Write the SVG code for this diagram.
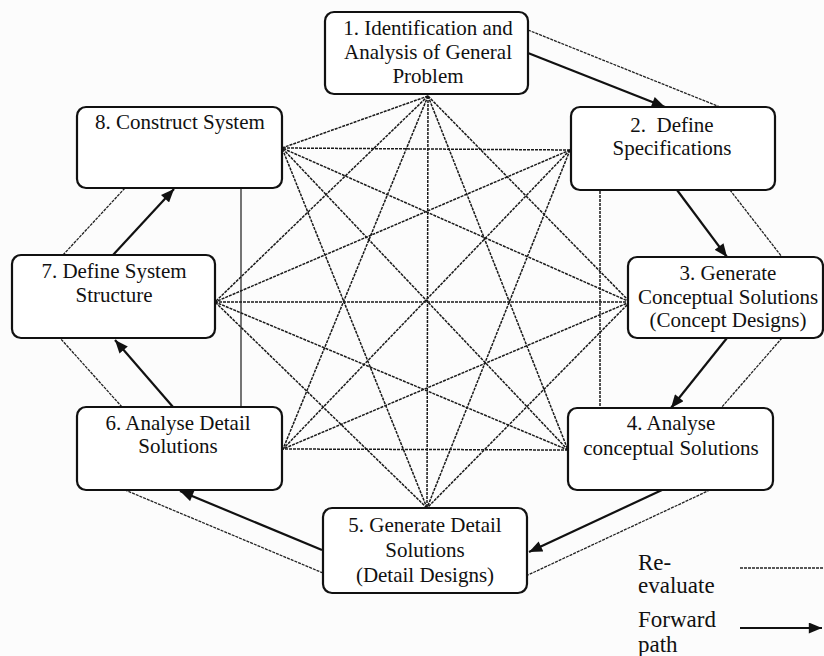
<svg xmlns="http://www.w3.org/2000/svg" width="824" height="656" viewBox="0 0 824 656">
  <style>
    .box { fill: #ffffff; stroke: #111; stroke-width: 2.2; }
    .lbl { font-family: "Liberation Serif", "Tinos", "DejaVu Serif", serif; font-size: 21px; fill: #111; text-anchor: middle; }
    .leg { font-family: "Liberation Serif", "Tinos", "DejaVu Serif", serif; font-size: 23px; fill: #111; }
    .link { stroke: #1a1a1a; stroke-width: 1.5; stroke-dasharray: 3 1; fill: none; }
    .thin { stroke: #1a1a1a; stroke-width: 1.2; fill: none; }
    .back { stroke: #222; stroke-width: 1.3; stroke-dasharray: 3 1; fill: none; }
    .fwd { stroke: #111; stroke-width: 2.2; fill: none; marker-end: url(#arrow); }
  </style>
  <defs>
    <marker id="arrow" viewBox="0 0 12 10" refX="12" refY="5" markerWidth="14" markerHeight="11" markerUnits="userSpaceOnUse" orient="auto">
      <path d="M0,0 L12,5 L0,10 Z" fill="#111"/>
    </marker>
  </defs>
  <rect width="824" height="656" fill="#fcfcfc"/>

  <!-- mesh of re-evaluation links between non-consecutive stages -->
  <g id="connectors">
    <g id="mesh">
      <!-- stage 1 -->
      <line class="link" x1="428" y1="96" x2="282" y2="148"/>
      <line class="link" x1="428" y1="96" x2="215" y2="302"/>
      <line class="link" x1="428" y1="96" x2="283" y2="449"/>
      <line class="link" x1="428" y1="96" x2="427" y2="508"/>
      <line class="link" x1="428" y1="96" x2="568" y2="450"/>
      <line class="link" x1="428" y1="96" x2="630" y2="302"/>
      <!-- stage 2 -->
      <line class="link" x1="570" y1="150" x2="282" y2="148"/>
      <line class="link" x1="570" y1="150" x2="215" y2="302"/>
      <line class="link" x1="570" y1="150" x2="283" y2="449"/>
      <line class="link" x1="570" y1="150" x2="427" y2="508"/>
      <line class="link" x1="600" y1="191" x2="600" y2="408"/>
      <!-- stage 3 -->
      <line class="link" x1="630" y1="302" x2="282" y2="148"/>
      <line class="link" x1="630" y1="302" x2="215" y2="302"/>
      <line class="link" x1="630" y1="302" x2="283" y2="449"/>
      <line class="link" x1="630" y1="302" x2="427" y2="508"/>
      <!-- stage 4 -->
      <line class="link" x1="568" y1="450" x2="282" y2="148"/>
      <line class="link" x1="568" y1="450" x2="215" y2="302"/>
      <line class="link" x1="568" y1="450" x2="283" y2="449"/>
      <!-- stage 5 -->
      <line class="link" x1="427" y1="508" x2="282" y2="148"/>
      <line class="link" x1="427" y1="508" x2="215" y2="302"/>
      <!-- stage 6 to stage 8 -->
      <line class="thin" x1="241" y1="188" x2="241" y2="407"/>
    </g>

    <!-- outer re-evaluate paths -->
    <g id="outer-back">
      <line class="back" x1="528" y1="30" x2="720" y2="107"/>
      <line class="back" x1="730" y1="190" x2="782" y2="257"/>
      <line class="back" x1="782" y1="338" x2="721" y2="408"/>
      <line class="back" x1="710" y1="490" x2="528" y2="575"/>
      <line class="back" x1="323" y1="573" x2="125" y2="490"/>
      <line class="back" x1="122" y1="407" x2="60" y2="338"/>
      <line class="back" x1="63" y1="255" x2="125" y2="188"/>
    </g>

    <!-- forward path arrows -->
    <g id="outer-forward">
      <line class="fwd" x1="528" y1="53" x2="665" y2="107"/>
      <line class="fwd" x1="677" y1="190" x2="727" y2="257"/>
      <line class="fwd" x1="727" y1="338" x2="671" y2="408"/>
      <line class="fwd" x1="662" y1="490" x2="529" y2="552"/>
      <line class="fwd" x1="322" y1="550" x2="180" y2="491"/>
      <line class="fwd" x1="173" y1="407" x2="115" y2="340"/>
      <line class="fwd" x1="113" y1="255" x2="174" y2="189"/>
    </g>
  </g>

  <g id="node1">
    <rect class="box" x="325" y="12" width="203" height="82" rx="9"/>
    <text class="lbl" x="428" y="35">1. Identification and</text>
    <text class="lbl" x="428" y="59">Analysis of General</text>
    <text class="lbl" x="428" y="83">Problem</text>
  </g>
  <g id="node2">
    <rect class="box" x="571" y="107" width="204" height="83" rx="9"/>
    <text class="lbl" x="672" y="132" style="white-space:pre">2.  Define</text>
    <text class="lbl" x="672" y="155">Specifications</text>
  </g>
  <g id="node3">
    <rect class="box" x="628" y="257" width="195" height="81" rx="9"/>
    <text class="lbl" x="728" y="280">3. Generate</text>
    <text class="lbl" x="728" y="304">Conceptual Solutions</text>
    <text class="lbl" x="728" y="327">(Concept Designs)</text>
  </g>
  <g id="node4">
    <rect class="box" x="568" y="408" width="205" height="82" rx="9"/>
    <text class="lbl" x="671" y="430">4. Analyse</text>
    <text class="lbl" x="671" y="455">conceptual Solutions</text>
  </g>
  <g id="node5">
    <rect class="box" x="323" y="508" width="204" height="85" rx="9"/>
    <text class="lbl" x="425" y="532">5. Generate Detail</text>
    <text class="lbl" x="425" y="557">Solutions</text>
    <text class="lbl" x="425" y="582">(Detail Designs)</text>
  </g>
  <g id="node6">
    <rect class="box" x="77" y="407" width="205" height="83" rx="9"/>
    <text class="lbl" x="178" y="430">6. Analyse Detail</text>
    <text class="lbl" x="178" y="453">Solutions</text>
  </g>
  <g id="node7">
    <rect class="box" x="12" y="255" width="203" height="83" rx="9"/>
    <text class="lbl" x="114" y="278">7. Define System</text>
    <text class="lbl" x="114" y="302">Structure</text>
  </g>
  <g id="node8">
    <rect class="box" x="77" y="107" width="205" height="81" rx="9"/>
    <text class="lbl" x="180" y="129">8. Construct System</text>
  </g>

  <g id="legend">
    <text class="leg" x="638" y="570">Re-</text>
    <text class="leg" x="638" y="593">evaluate</text>
    <text class="leg" x="638" y="627">Forward</text>
    <text class="leg" x="638" y="652">path</text>
    <line class="back" x1="740" y1="568" x2="824" y2="568"/>
    <line class="fwd" x1="740" y1="628" x2="822" y2="628"/>
  </g>
</svg>
